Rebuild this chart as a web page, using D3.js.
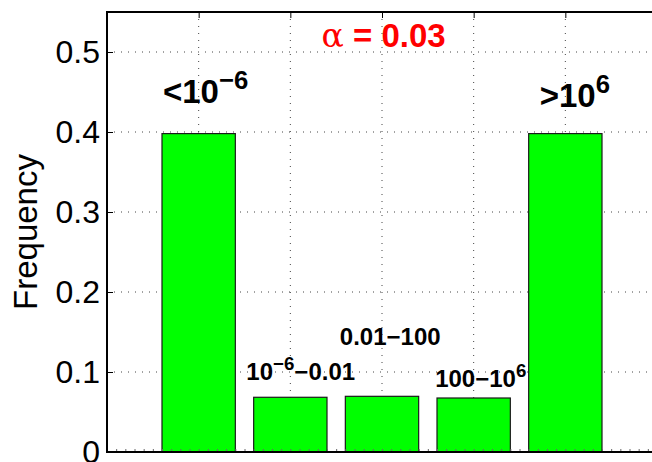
<!DOCTYPE html>
<meta charset="utf-8">
<script src="https://d3js.org/d3.v7.min.js"></script>
<style>
  body { margin: 0; background: #fff; }
  text { font-family: "Liberation Sans", Arial, Helvetica, sans-serif; }
</style>
<div id="my_dataviz"></div>
<script>

  // data
  var bins = [1, 2, 3, 4, 5];
  var freq = [0.398, 0.0684, 0.0696, 0.0675, 0.398];
  var yTicks = [0, 0.1, 0.2, 0.3, 0.4, 0.5];

  // bar annotations: [main text, superscript, tail text], placed in data units
  var labelParts = [
    ["<10", "\u22126", ""],
    ["10", "\u22126", "\u22120.01"],
    ["0.01\u2212100", "", ""],
    ["100\u221210", "6", ""],
    [">10", "6", ""]
  ];
  var labelX = [0.61, 1.52, 2.54, 3.58, 4.72];
  var labelY = [0.436, 0.09, 0.134, 0.081, 0.431];
  var labelBig = [true, false, false, false, true];

  var margin = {top: 12, right: 0, bottom: 10, left: 107},
    width = 550,
    height = 440;

  var svg = d3.select("#my_dataviz")
    .append("svg")
      .attr("width", 652)
      .attr("height", 462)
    .append("g")
      .attr("transform", "translate(" + margin.left + "," + margin.top + ")");

  var x = d3.scaleLinear().domain([0, 6]).range([0, width]);
  var y = d3.scaleLinear().domain([0, 0.55]).range([height, 0]);
  var bw = (x(1) - x(0)) * 0.8;

  // dotted grid
  svg.append("g")
    .selectAll("line.gy")
    .data(yTicks.slice(1))
    .enter().append("line")
      .attr("x1", 0).attr("x2", width)
      .attr("y1", function(d) { return y(d); })
      .attr("y2", function(d) { return y(d); })
      .style("stroke", "#444")
      .style("stroke-width", 1)
      .style("stroke-dasharray", "1,6");
  svg.append("g")
    .selectAll("line.gx")
    .data(bins)
    .enter().append("line")
      .attr("x1", function(d) { return x(d); })
      .attr("x2", function(d) { return x(d); })
      .attr("y1", 0).attr("y2", height)
      .style("stroke", "#444")
      .style("stroke-width", 1)
      .style("stroke-dasharray", "1,6");

  // bars
  svg.selectAll("rect.bar")
    .data(freq)
    .enter().append("rect")
      .attr("class", "bar")
      .attr("x", function(d, i) { return x(bins[i]) - bw / 2; })
      .attr("y", function(d) { return y(d); })
      .attr("width", bw)
      .attr("height", function(d) { return height - y(d); })
      .style("fill", "#00ff00")
      .style("stroke", "#1a1a1a")
      .style("stroke-width", 1.2);

  // y axis (ticks pointing inward)
  var yAxis = svg.append("g")
    .call(d3.axisLeft(y).tickValues(yTicks).tickSizeInner(-6).tickSizeOuter(0).tickPadding(7)
      .tickFormat(function(d) { return d === 0 ? "0" : d3.format(".1f")(d); }));
  yAxis.select(".domain").remove();
  yAxis.selectAll("text").style("font-size", "32px").style("fill", "#000")
    .style("font-family", "'Liberation Sans', Arial, sans-serif");
  yAxis.selectAll("line").style("stroke", "#000").style("stroke-width", 1);

  // x ticks top and bottom, no labels
  var xTop = svg.append("g")
    .call(d3.axisTop(x).tickValues(bins).tickSizeInner(-6).tickSizeOuter(0).tickFormat(""));
  xTop.select(".domain").remove();
  var xBot = svg.append("g")
    .attr("transform", "translate(0," + height + ")")
    .call(d3.axisBottom(x).tickValues(d3.range(0.1, 6, 0.1)).tickSizeInner(-3).tickSizeOuter(0).tickFormat(""));
  xBot.select(".domain").remove();
  xBot.selectAll("line").style("stroke", "#666");

  // axes box
  svg.append("path")
    .attr("d", "M" + x(6) + "," + y(0.55) + "H" + x(0) + "V" + y(0) + "H" + x(6))
    .style("fill", "none")
    .style("stroke", "#000")
    .style("stroke-width", 2);

  // y label
  svg.append("text")
    .attr("transform", "translate(" + (-70) + "," + (height / 2) + ") rotate(-90)")
    .attr("text-anchor", "middle")
    .style("font-size", "33px")
    .text("Frequency");

  // bar annotations
  labelParts.forEach(function(p, i) {
    var fs = labelBig[i] ? 33 : 24;
    var t = svg.append("text")
      .attr("x", x(labelX[i]))
      .attr("y", y(labelY[i]))
      .style("font-size", fs + "px")
      .style("font-weight", "bold")
      .style("fill", "#000");
    t.append("tspan").text(p[0]);
    if (p[1]) {
      t.append("tspan")
        .attr("dy", -0.42 * fs)
        .style("font-size", (fs * 0.78) + "px")
        .text(p[1]);
    }
    if (p[2]) {
      t.append("tspan")
        .attr("dy", 0.42 * fs)
        .text(p[2]);
    }
  });

  // title-ish annotation
  var a = svg.append("text")
    .attr("x", x(2.34))
    .attr("y", y(0.506))
    .style("font-size", "33px")
    .style("fill", "#ff0000");
  a.append("tspan").style("font-family", "'DejaVu Serif', 'Liberation Serif', serif").style("font-weight", "normal").text("\u03b1");
  a.append("tspan").style("font-weight", "bold").text(" = 0.03");

</script>
